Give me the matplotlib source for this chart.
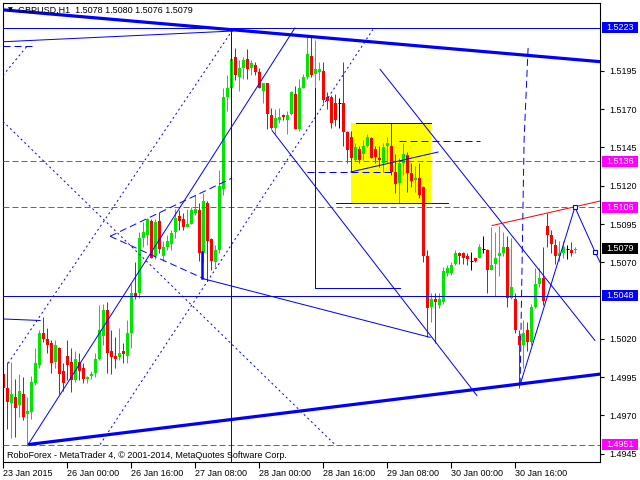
import matplotlib
matplotlib.use("Agg")
import matplotlib.pyplot as plt
import matplotlib.transforms as mtransforms
from matplotlib.patches import Rectangle

plt.rcParams['font.family'] = ['Liberation Sans', 'DejaVu Sans']

# ---------------- data ----------------
title = "GBPUSD,H1  1.5078 1.5080 1.5076 1.5079"
footer = "RoboForex - MetaTrader 4, \u00a9 2001-2014, MetaQuotes Software Corp."

opens = [1.4997, 1.4988, 1.4978, 1.4982, 1.4977, 1.4984, 1.4971, 1.4972, 1.4991, 1.5003,
         1.5024, 1.5020, 1.5017, 1.5005, 1.5014, 1.4999, 1.5009, 1.5005, 1.4993, 1.5005,
         1.5001, 1.4994, 1.4996, 1.4998, 1.5007, 1.5022, 1.5039, 1.5012, 1.5009, 1.5008,
         1.5012, 1.5009, 1.5024, 1.5050, 1.5050, 1.5086, 1.5088, 1.5097, 1.5074, 1.5097,
         1.5074, 1.5080, 1.5082, 1.5090, 1.5100, 1.5098, 1.5093, 1.5095, 1.5102, 1.5104,
         1.5076, 1.5109, 1.5085, 1.5070, 1.5078, 1.5118, 1.5178, 1.5184, 1.5204, 1.5191,
         1.5197, 1.5203, 1.5197, 1.5199, 1.5194, 1.5182, 1.5187, 1.5166, 1.5158, 1.5163,
         1.5166, 1.5163, 1.5167, 1.5180, 1.5157, 1.5184, 1.5191, 1.5205, 1.5193, 1.5194,
         1.5195, 1.5178, 1.5178, 1.5174, 1.5174, 1.5174, 1.5155, 1.5152, 1.5137, 1.5144,
         1.5141, 1.5146, 1.5151, 1.5144, 1.5138, 1.5135, 1.5146, 1.5146, 1.5129, 1.5122,
         1.5135, 1.5140, 1.5128, 1.5124, 1.5125, 1.5119, 1.5074, 1.5041, 1.5046, 1.5042,
         1.5044, 1.5063, 1.5063, 1.5069, 1.5076, 1.5076, 1.5074, 1.5071, 1.5073, 1.5073,
         1.5079, 1.5078, 1.5065, 1.5069, 1.5074, 1.5076, 1.5080, 1.5047, 1.5046, 1.5022,
         1.5016, 1.5026, 1.5018, 1.5041, 1.5056, 1.5060, 1.5094, 1.5088, 1.5081, 1.5074,
         1.5076, 1.5079, 1.5078, 1.5078]
highs = [1.5001, 1.5005, 1.5005, 1.4994, 1.4997, 1.4995, 1.4982, 1.4996, 1.5014, 1.5026,
         1.5034, 1.5027, 1.5019, 1.5019, 1.5015, 1.5004, 1.5019, 1.5014, 1.5012, 1.5011,
         1.5004, 1.4996, 1.4999, 1.5011, 1.5042, 1.5043, 1.5044, 1.5026, 1.5021, 1.5027,
         1.5017, 1.5032, 1.5056, 1.5070, 1.5090, 1.5096, 1.5099, 1.5098, 1.5098, 1.5103,
         1.5084, 1.5088, 1.5091, 1.5105, 1.5104, 1.5102, 1.5105, 1.5106, 1.5114, 1.5109,
         1.5115, 1.5110, 1.5086, 1.5081, 1.5130, 1.5184, 1.5192, 1.5220, 1.5210, 1.5202,
         1.5204, 1.5209, 1.5202, 1.5201, 1.5197, 1.5187, 1.5187, 1.5171, 1.5170, 1.5171,
         1.5167, 1.5169, 1.5182, 1.5185, 1.5190, 1.5193, 1.5217, 1.5217, 1.5215, 1.5201,
         1.5201, 1.5181, 1.5179, 1.5180, 1.5177, 1.5201, 1.5156, 1.5156, 1.5148, 1.5146,
         1.5150, 1.5154, 1.5152, 1.5146, 1.5146, 1.5148, 1.5152, 1.5161, 1.5141, 1.5138,
         1.5148, 1.5142, 1.5135, 1.5133, 1.5135, 1.5120, 1.5078, 1.5050, 1.5050, 1.5050,
         1.5067, 1.5068, 1.5070, 1.5078, 1.5077, 1.5077, 1.5076, 1.5077, 1.5073, 1.5082,
         1.5087, 1.5079, 1.5093, 1.5090, 1.5094, 1.5090, 1.5087, 1.5086, 1.5050, 1.5026,
         1.5032, 1.5031, 1.5043, 1.5066, 1.5066, 1.5080, 1.5102, 1.5091, 1.5085, 1.5084,
         1.5084, 1.5081, 1.5083, 1.5080]
lows = [1.4985, 1.4961, 1.4955, 1.4956, 1.4969, 1.4967, 1.4950, 1.4968, 1.4990, 1.5001,
        1.5018, 1.5011, 1.4998, 1.5001, 1.4984, 1.4986, 1.4993, 1.4985, 1.4992, 1.4993,
        1.4991, 1.4991, 1.4994, 1.4995, 1.5006, 1.5016, 1.4998, 1.4997, 1.5001, 1.5006,
        1.5004, 1.5004, 1.5014, 1.5046, 1.5047, 1.5080, 1.5081, 1.5073, 1.5072, 1.5076,
        1.5071, 1.5078, 1.5078, 1.5086, 1.5091, 1.5091, 1.5093, 1.5095, 1.5101, 1.5071,
        1.5070, 1.5058, 1.5065, 1.5067, 1.5076, 1.5114, 1.5169, 1.5169, 1.5189, 1.5182,
        1.5190, 1.5190, 1.5192, 1.5192, 1.5184, 1.5174, 1.5157, 1.5157, 1.5154, 1.5161,
        1.5163, 1.5154, 1.5166, 1.5157, 1.5156, 1.5184, 1.5190, 1.5191, 1.5184, 1.5189,
        1.5174, 1.5170, 1.5158, 1.5159, 1.5158, 1.5146, 1.5135, 1.5129, 1.5136, 1.5135,
        1.5137, 1.5145, 1.5138, 1.5135, 1.5132, 1.5129, 1.5135, 1.5127, 1.5115, 1.5109,
        1.5127, 1.5116, 1.5119, 1.5116, 1.5112, 1.5070, 1.5021, 1.5031, 1.5017, 1.5040,
        1.5043, 1.5061, 1.5062, 1.5068, 1.5069, 1.5069, 1.5068, 1.5065, 1.5070, 1.5073,
        1.5076, 1.5050, 1.5065, 1.5048, 1.5061, 1.5074, 1.5041, 1.5046, 1.5024, 1.4988,
        1.5001, 1.5012, 1.5016, 1.5040, 1.5054, 1.5042, 1.5080, 1.5076, 1.5069, 1.5071,
        1.5073, 1.5072, 1.5074, 1.5076]
closes = [1.4988, 1.4979, 1.4984, 1.4975, 1.4986, 1.4969, 1.4973, 1.4992, 1.5004, 1.5024,
          1.5020, 1.5016, 1.5004, 1.5016, 1.4997, 1.4991, 1.5003, 1.4993, 1.5007, 1.4999,
          1.4994, 1.4995, 1.4997, 1.5007, 1.5026, 1.5039, 1.5011, 1.5008, 1.5007, 1.5011,
          1.5010, 1.5024, 1.5050, 1.5048, 1.5086, 1.5090, 1.5098, 1.5073, 1.5096, 1.5079,
          1.5080, 1.5084, 1.5089, 1.5099, 1.5097, 1.5093, 1.5095, 1.5104, 1.5105, 1.5076,
          1.5110, 1.5084, 1.5071, 1.5078, 1.5120, 1.5178, 1.5184, 1.5203, 1.5192, 1.5197,
          1.5202, 1.5196, 1.5200, 1.5194, 1.5184, 1.5187, 1.5167, 1.5158, 1.5164, 1.5165,
          1.5165, 1.5166, 1.5181, 1.5157, 1.5184, 1.5191, 1.5206, 1.5192, 1.5196, 1.5196,
          1.5176, 1.5175, 1.5161, 1.5163, 1.5174, 1.5155, 1.5143, 1.5138, 1.5145, 1.5137,
          1.5146, 1.5152, 1.5138, 1.5139, 1.5137, 1.5145, 1.5148, 1.5129, 1.5121, 1.5135,
          1.5141, 1.5128, 1.5123, 1.5125, 1.5114, 1.5074, 1.5040, 1.5046, 1.5044, 1.5046,
          1.5064, 1.5066, 1.5068, 1.5076, 1.5074, 1.5073, 1.5072, 1.5071, 1.5071, 1.5080,
          1.5079, 1.5065, 1.5068, 1.5073, 1.5076, 1.5080, 1.5047, 1.5054, 1.5026, 1.5016,
          1.5024, 1.5018, 1.5041, 1.5056, 1.5060, 1.5045, 1.5088, 1.5082, 1.5074, 1.5076,
          1.5080, 1.5079, 1.5076, 1.5079]

time_label_bars = [0, 16, 32, 48, 64, 80, 96, 112, 128]
time_labels = ["23 Jan 2015", "26 Jan 00:00", "26 Jan 16:00", "27 Jan 08:00",
               "28 Jan 00:00", "28 Jan 16:00", "29 Jan 08:00", "30 Jan 00:00",
               "30 Jan 16:00"]
# price-axis ticks (1.5220 and 1.5045 are hidden behind the level tags)
price_ticks = [1.4945, 1.4970, 1.4995, 1.5020, 1.5070, 1.5095,
               1.5120, 1.5145, 1.5170, 1.5195]

blue_levels = [1.5223, 1.5048]
magenta_levels = [1.5136, 1.5106, 1.4951]
price_tags = [(1.5223, '#0000ff'), (1.5136, '#ff00ff'), (1.5106, '#ff00ff'),
              (1.5079, '#000000'), (1.5048, '#0000ff'), (1.4951, '#ff00ff')]

# trend lines: (bars, prices)
thick_lines = [([-0.8, 149.2], [1.5235, 1.5201]),
               ([6.2, 149.2], [1.4951, 1.4997])]
solid_lines = [([-0.1, 57.4], [1.5214, 1.5221]),
               ([6.2, 72.9], [1.4951, 1.5223]),
               ([50.4, 106.7], [1.5059, 1.5021]),
               ([77.9, 77.9, 99.2], [1.5184, 1.5053, 1.5053]),
               ([67.2, 118.4], [1.5156, 1.4983]),
               ([94.2, 147.9], [1.5196, 1.5019]),
               ([-0.1, 9.2], [1.5033, 1.5032]),
               ([88.2, 106.9], [1.5161, 1.5161]),
               ([83.2, 111.2], [1.5109, 1.5109]),
               ([86.9, 108.7], [1.5129, 1.5142])]
zigzag_bars = [129.2, 142.9, 147.9, 149.2]
zigzag_prices = [1.4990, 1.5106, 1.5077, 1.5070]
dotted_lines = [([-0.1, 5.9], [1.5192, 1.5211]),
                ([-0.1, 82.9], [1.5162, 1.4951]),
                ([1.2, 57.4], [1.5004, 1.5222]),
                ([24.2, 92.4], [1.4951, 1.5222])]
dashed_lines = [([-0.1, 7.2], [1.5211, 1.5211]),
                ([26.7, 57.2], [1.5087, 1.5125]),
                ([26.7, 50.4], [1.5087, 1.5059]),
                ([98.9, 119.2], [1.5149, 1.5149]),
                ([75.9, 97.2], [1.5129, 1.5129]),
                ([131.2, 130.2, 129.2], [1.5210, 1.5150, 1.4990])]
white_dashed = [([98.9, 106.9], [1.5144, 1.5144]),
                ([98.9, 106.9], [1.5119, 1.5119])]
red_line = ([122.2, 149.2], [1.5094, 1.5110])
vline_bar = 56.9
vline_top = 1.5222
short_vbar = ([49.7, 49.7], [1.5077, 1.5060])
rect_bars = (86.9, 106.9)
rect_prices = (1.5109, 1.5161)

# ---------------- figure ----------------
W, H = 640, 480
fig = plt.figure(figsize=(6.4, 4.8), dpi=100)
L, R, T, B = 2.7, 600.0, 2.7, 461.7
ax = fig.add_axes([L / W, 1 - B / H, (R - L) / W, (B - T) / H])
ax.set_facecolor('white')

px_per_bar = 4.0
ax.set_xlim((L - 3.3) / px_per_bar, (R - 3.3) / px_per_bar)
ax.set_ylim(1.49398, 1.52395)

BLUE = '#0000ff'
MAG = '#ff00ff'
GREEN = '#00e600'
RED = '#ff0000'
thin = 0.72   # one pixel

# yellow rectangle (background)
ax.add_patch(Rectangle((rect_bars[0], rect_prices[0]), rect_bars[1] - rect_bars[0],
                       rect_prices[1] - rect_prices[0], facecolor='#ffff00',
                       edgecolor='none', zorder=0.5))
for bx, py in white_dashed:
    ax.plot(bx, py, color='white', lw=thin, ls=(0, (5, 3)), zorder=0.6)

# candles
for i in range(len(opens)):
    o, h, l, c = opens[i], highs[i], lows[i], closes[i]
    if c > o:
        col = GREEN
    elif c < o:
        col = RED
    else:
        col = 'black'
    ax.vlines(i, l, h, colors=col, lw=thin, zorder=2)
    if c == o:
        ax.hlines(o, i - 0.4, i + 0.4, colors=col, lw=thin, zorder=2)
    else:
        ax.bar(i, abs(c - o), bottom=min(o, c), width=0.8, color=col,
               linewidth=0, zorder=2.1)

# horizontal levels
for lv in blue_levels:
    ax.axhline(lv, color=BLUE, lw=thin, zorder=3)
for lv in magenta_levels:
    ax.axhline(lv, color=MAG, lw=thin, ls=(0, (6, 3)), zorder=3)

for bx, py in thick_lines:
    ax.plot(bx, py, color=BLUE, lw=2.3, zorder=3, solid_capstyle='butt')
for bx, py in solid_lines:
    ax.plot(bx, py, color=BLUE, lw=thin, zorder=3)
for bx, py in dotted_lines:
    ax.plot(bx, py, color=BLUE, lw=thin, ls=(0, (2, 3)), zorder=3)
for bx, py in dashed_lines:
    ax.plot(bx, py, color=BLUE, lw=thin, ls=(0, (7, 4)), zorder=3)
ax.plot(zigzag_bars, zigzag_prices, color=BLUE, lw=thin, zorder=3)
ax.plot(zigzag_bars[1:3], zigzag_prices[1:3], ls='none', marker='s', ms=3.5,
        mfc='white', mec=BLUE, mew=0.8, zorder=3.5)
ax.plot(red_line[0], red_line[1], color=RED, lw=thin, zorder=3)
ax.plot([vline_bar, vline_bar], [vline_top, 1.49], color=BLUE, lw=thin, zorder=3)
ax.plot(short_vbar[0], short_vbar[1], color=BLUE, lw=1.8, zorder=3)

# axes styling
for sp in ax.spines.values():
    sp.set_color('black')
    sp.set_linewidth(0.8)
ax.yaxis.tick_right()
ax.set_yticks(price_ticks)
ax.set_yticklabels(["%.4f" % p for p in price_ticks])
ax.tick_params(axis='y', direction='out', length=3, width=0.8, pad=4,
               labelsize=6.5, colors='black')
ax.set_xticks(time_label_bars)
ax.set_xticklabels(time_labels)
ax.tick_params(axis='x', direction='out', length=4, width=0.8, pad=1.5,
               labelsize=6.5, colors='black')
for lbl in ax.get_xticklabels():
    lbl.set_ha('left')

# price tags on the right axis
blend = mtransforms.blended_transform_factory(ax.transAxes, ax.transData)
def fx(px):
    return (px - L) / (R - L)
tag_h = 11 * (1.52395 - 1.49398) / (B - T)
for p, col in price_tags:
    ax.add_patch(Rectangle((fx(602), p - tag_h / 2), fx(638) - fx(602), tag_h,
                           transform=blend, facecolor=col, edgecolor='none',
                           clip_on=False, zorder=10))
    ax.text(fx(606), p, "%.4f" % p, transform=blend, color='white', fontsize=6.5,
            va='center', ha='left', zorder=11, clip_on=False)

# title and footer
fig.text(8 / W, 1 - 10 / H, "\u25bc", fontsize=4.5, color='black', va='center',
         ha='left', family='DejaVu Sans')
fig.text(18 / W, 1 - 10 / H, title, fontsize=6.5, color='black', va='center', ha='left')
fig.text(7 / W, 1 - 455 / H, footer, fontsize=6.5, color='black', va='center', ha='left')

fig.savefig("out.png", dpi=100)
